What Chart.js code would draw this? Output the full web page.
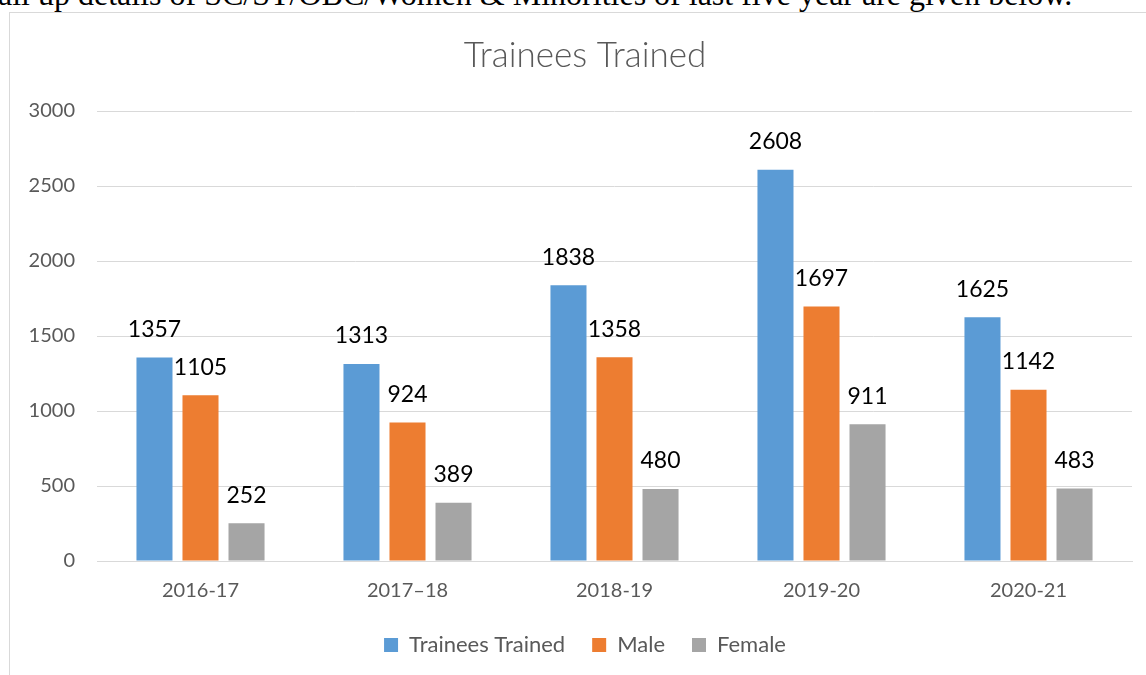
<!DOCTYPE html>
<html>
<head>
<meta charset="utf-8">
<script src="https://cdn.jsdelivr.net/npm/chart.js@4.4.1/dist/chart.umd.min.js"></script>
<style>
  html, body { margin: 0; padding: 0; width: 1146px; height: 675px; overflow: hidden; background: #fff; }
  #topline { position: absolute; left: -2px; top: -22px; font-family: "Liberation Serif", "DejaVu Serif", serif; font-size: 32px; line-height: 32px; color: #000; white-space: nowrap; }
  #frame { position: absolute; left: 9px; top: 12px; width: 1137px; height: 663px; border-left: 1px solid #d9d9d9; border-top: 1px solid #d9d9d9; box-sizing: border-box; }
  #wrap { position: absolute; left: 10px; top: 13px; width: 1136px; height: 662px; }
</style>
</head>
<body>
<div id="topline">all up details of SC/ST/OBC/Women &amp; Minorities of last five year are given below.</div>
<div id="frame"></div>
<div id="wrap"><canvas id="c" width="1136" height="662"></canvas></div>
<script>
const categories = ["2016-17", "2017\u201318", "2018-19", "2019-20", "2020-21"];
const traineesTrained = [1357, 1313, 1838, 2608, 1625];
const male = [1105, 924, 1358, 1697, 1142];
const female = [252, 389, 480, 911, 483];
const yTicks = [0, 500, 1000, 1500, 2000, 2500, 3000];

const FONT = "Lato, 'Open Sans', sans-serif";
const GREY_TEXT = "#595959";

const dataLabels = {
  id: "dataLabels",
  afterDatasetsDraw(chart) {
    const ctx = chart.ctx;
    ctx.save();
    ctx.font = "23px " + FONT;
    ctx.fillStyle = "#000";
    ctx.textAlign = "center";
    ctx.textBaseline = "middle";
    chart.data.datasets.forEach((ds, i) => {
      const meta = chart.getDatasetMeta(i);
      meta.data.forEach((el, j) => {
        ctx.fillText(String(ds.data[j]), el.x, el.y - 28);
      });
    });
    ctx.restore();
  }
};

new Chart(document.getElementById("c"), {
  type: "bar",
  data: {
    labels: categories,
    datasets: [
      { label: "Trainees Trained", data: traineesTrained, backgroundColor: "#5B9BD5" },
      { label: "Male", data: male, backgroundColor: "#ED7D31" },
      { label: "Female", data: female, backgroundColor: "#A5A5A5" }
    ]
  },
  options: {
    responsive: false,
    animation: false,
    devicePixelRatio: 1,
    datasets: { bar: { categoryPercentage: 0.667, barPercentage: 0.783 } },
    layout: { padding: { left: 28, right: 14, top: 0, bottom: 9 } },
    plugins: {
      title: {
        display: true,
        text: "Trainees Trained",
        color: GREY_TEXT,
        font: { family: FONT, size: 35, weight: "300", lineHeight: 1.2 },
        padding: { top: 22, bottom: 34 }
      },
      legend: {
        position: "bottom",
        labels: {
          color: GREY_TEXT,
          font: { family: FONT, size: 22 },
          boxWidth: 14,
          boxHeight: 14,
          padding: 27
        }
      },
      tooltip: { enabled: false }
    },
    scales: {
      x: {
        afterFit(scale) { scale.height = 46; },
        grid: { display: false, drawTicks: false },
        border: { display: true, color: "#d9d9d9" },
        ticks: { color: GREY_TEXT, font: { family: FONT, size: 20 }, padding: 18 }
      },
      y: {
        min: 0,
        max: 3000,
        afterBuildTicks(scale) { scale.ticks = yTicks.map(v => ({ value: v })); },
        afterFit(scale) {
          scale.width = 59;
          scale._computeLabelArea = () => undefined;
        },
        grid: { color: "#d9d9d9", drawTicks: false },
        border: { display: false },
        ticks: { color: GREY_TEXT, font: { family: FONT, size: 20 }, padding: 22, callback: v => String(v) }
      }
    }
  },
  plugins: [dataLabels]
});
</script>
</body>
</html>
